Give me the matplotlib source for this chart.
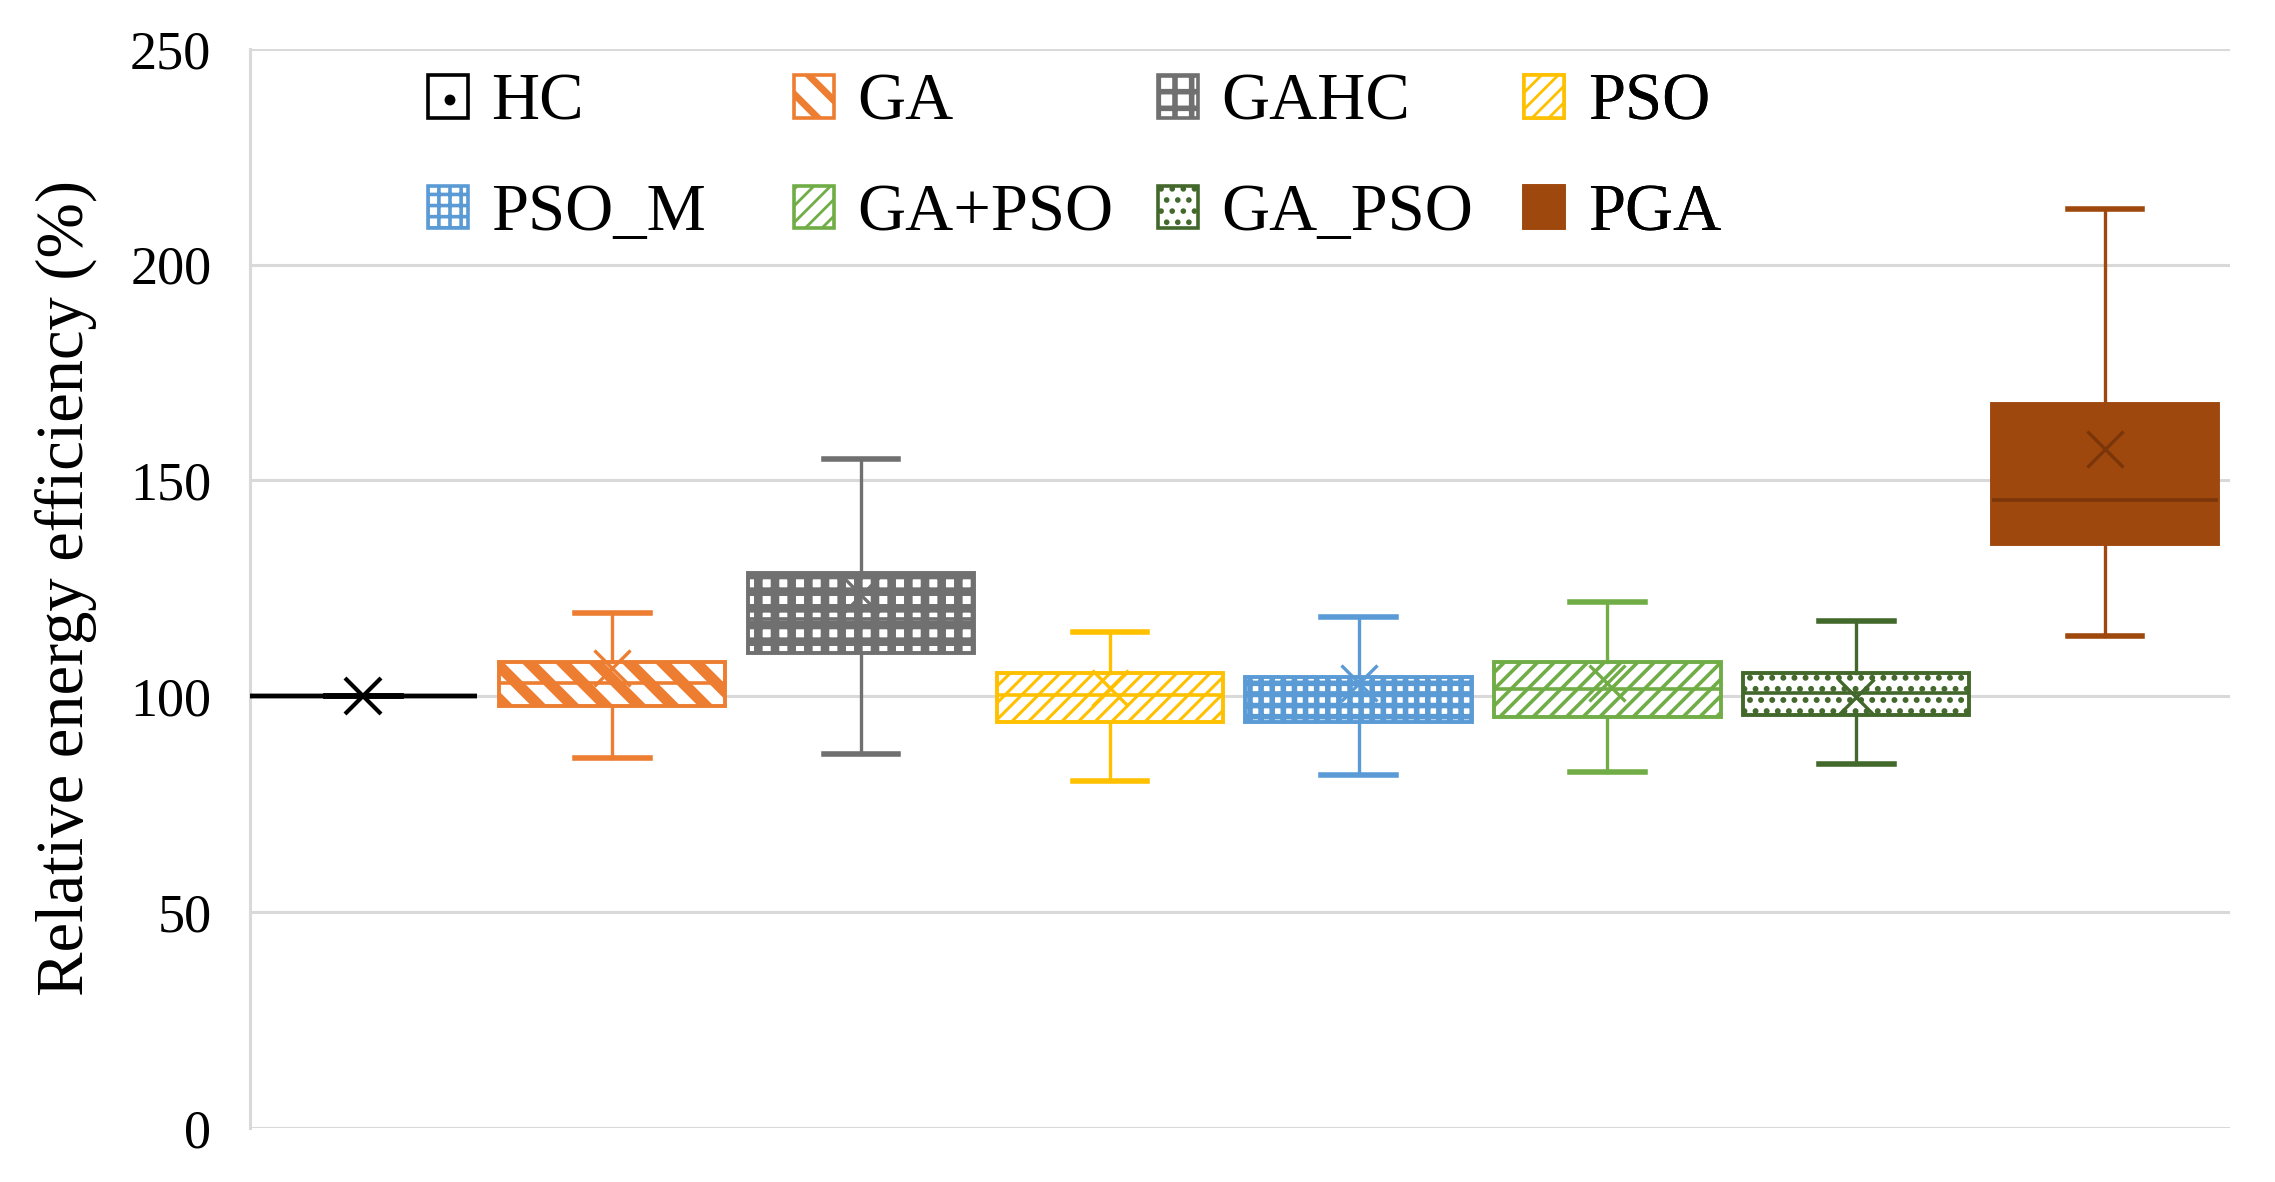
import matplotlib
matplotlib.use("Agg")
import matplotlib.pyplot as plt
from matplotlib.patches import Patch, PathPatch

# ---------------- data ----------------
labels = ["HC", "GA", "GAHC", "PSO", "PSO_M", "GA+PSO", "GA_PSO", "PGA"]
whisker_low = [100.0, 85.6, 86.6, 80.3, 81.7, 82.4, 84.3, 113.9]
q1_values = [100.0, 97.7, 110.0, 94.0, 94.0, 95.1, 95.6, 135.4]
medians = [100.0, 103.2, 118.0, 100.4, 100.7, 101.6, 100.7, 145.4]
q3_values = [100.0, 107.9, 128.5, 105.3, 104.4, 107.9, 105.5, 167.8]
whisker_high = [100.0, 119.2, 154.9, 114.8, 118.3, 121.8, 117.4, 213.0]
means = [100.0, 106.5, 123.5, 102.0, 103.0, 103.0, 99.8, 157.2]
y_ticks = [0, 50, 100, 150, 200, 250]

# ---------------- styles ----------------
colors = ["#000000", "#ED7D31", "#707070", "#FFC000", "#5B9BD5", "#70AD47", "#43682B", "#9E480E"]
faces = ["white", "white", "white", "white", "white", "white", "white", "#9E480E"]
hatches = [".", "\\\\", "++", "////", "+++", "////", "...", None]
hatch_lw = [1.5, 4.0, 3.1, 1.1, 2.0, 1.3, 1.3, 0]
legend_hatch_lw = [1.5, 2.5, 2.0, 1.0, 1.3, 1.0, 1.2, 0]
mean_colors = ["#000000", "#ED7D31", "#707070", "#FFC000", "#5B9BD5", "#70AD47", "#43682B", "#7A360A"]

plt.rcParams["font.family"] = ["Liberation Serif", "DejaVu Serif"]

fig = plt.figure(figsize=(11.375, 5.91), dpi=200)
ax = fig.add_axes([0.110, 0.0457, 0.870, 0.913])

stats = []
for i, lab in enumerate(labels):
    stats.append(dict(label=lab, whislo=whisker_low[i], q1=q1_values[i], med=medians[i],
                      q3=q3_values[i], whishi=whisker_high[i], mean=means[i], fliers=[]))

positions = list(range(len(labels)))
bp = ax.bxp(stats, positions=positions, widths=0.91, patch_artist=True,
            showmeans=True, showfliers=False, manage_ticks=False, zorder=3)

for i in range(len(labels)):
    c = colors[i]
    box = bp["boxes"][i]
    box.set_facecolor(faces[i])
    box.set_edgecolor(c)
    box.set_linewidth(1.4)
    box.set_zorder(3)
    if hatches[i]:
        hp = PathPatch(box.get_path(), transform=box.get_transform(), facecolor="none",
                       edgecolor=c, linewidth=0, hatch=hatches[i], zorder=3.5)
        try:
            hp.set_hatch_linewidth(hatch_lw[i])
        except Exception:
            pass
        ax.add_patch(hp)
    for w in bp["whiskers"][2 * i:2 * i + 2]:
        w.set_color(c); w.set_linewidth(1.2)
    for cp in bp["caps"][2 * i:2 * i + 2]:
        cp.set_color(c); cp.set_linewidth(2.0)
        xd = cp.get_xdata()
        mid = (xd[0] + xd[1]) / 2
        cp.set_xdata([mid - 0.15, mid + 0.15])
    med = bp["medians"][i]
    med.set_color(c if i != 7 else "#7A360A"); med.set_linewidth(1.3); med.set_zorder(4)
    mn = bp["means"][i]
    mn.set_marker("x"); mn.set_markersize(13); mn.set_markeredgewidth(1.2)
    mn.set_markeredgecolor(mean_colors[i]); mn.set_zorder(5)

# HC is a flat line
bp["boxes"][0].set_linewidth(1.6)
bp["medians"][0].set_linewidth(1.6)
bp["means"][0].set_markeredgewidth(1.5)

ax.set_xlim(-0.455, 7.5)
ax.set_ylim(0, 250)
ax.set_yticks(y_ticks)
ax.set_xticks([])
ax.tick_params(axis="y", length=0, pad=14, labelsize=19.5)
ax.yaxis.grid(True, color="#D9D9D9", linewidth=1.1, zorder=0)
ax.set_axisbelow(True)
for s in ["top", "right", "bottom"]:
    ax.spines[s].set_visible(False)
ax.spines["left"].set_color("#D9D9D9")
ax.spines["left"].set_linewidth(1.1)
ax.set_ylabel("Relative energy efficiency (%)", fontsize=24, labelpad=12)

# legend: 4 columns positioned at fixed offsets
def handle(i):
    return Patch(facecolor=faces[i], edgecolor=colors[i], linewidth=1.3, hatch=hatches[i])

col_x = [0.083, 0.268, 0.452, 0.637]
for j in range(4):
    idx = [j, j + 4]
    hs = [handle(k) for k in idx]
    leg = ax.legend(hs, [labels[k] for k in idx], loc="upper left",
                    bbox_to_anchor=(col_x[j], 0.99), frameon=False, fontsize=24,
                    handlelength=0.6, handleheight=0.6, handletextpad=0.35,
                    labelspacing=0.74, borderaxespad=0, borderpad=0.2)
    for k, h in zip(idx, leg.legend_handles):
        try:
            h.set_hatch_linewidth(legend_hatch_lw[k])
        except Exception:
            pass
    ax.add_artist(leg)

fig.savefig("out.png", dpi=200)
